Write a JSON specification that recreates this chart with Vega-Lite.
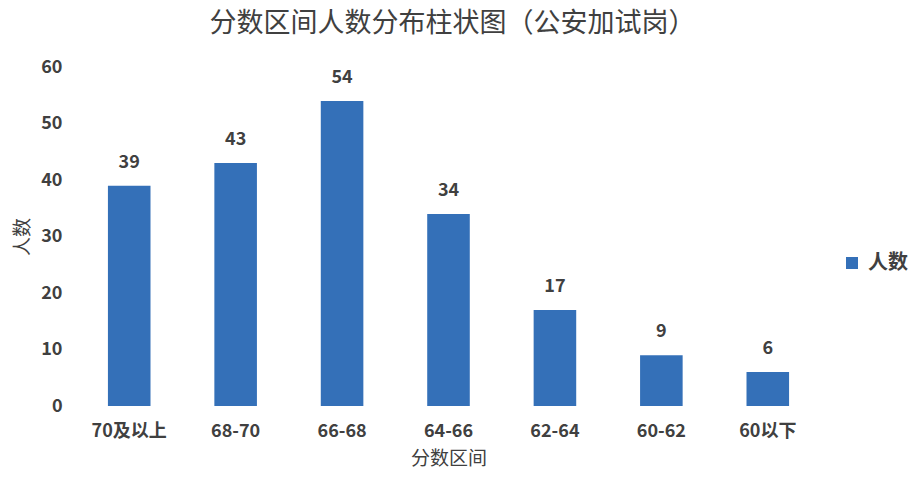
{
  "$schema": "https://vega.github.io/schema/vega-lite/v6.json",
  "autosize": "none",
  "width": 745,
  "height": 339,
  "padding": {"left": 76, "top": 67, "right": 100, "bottom": 91},
  "background": "white",
  "config": {
    "view": {"stroke": null},
    "font": "Noto Sans CJK SC"
  },
  "title": {
    "text": "分数区间人数分布柱状图（公安加试岗）",
    "font": "Noto Sans CJK SC",
    "fontSize": 27,
    "fontWeight": "normal",
    "color": "#404040",
    "anchor": "middle",
    "dx": 4,
    "offset": 20
  },
  "data": {
    "values": [
      {"区间": "70及以上", "人数": 39},
      {"区间": "68-70", "人数": 43},
      {"区间": "66-68", "人数": 54},
      {"区间": "64-66", "人数": 34},
      {"区间": "62-64", "人数": 17},
      {"区间": "60-62", "人数": 9},
      {"区间": "60以下", "人数": 6}
    ]
  },
  "encoding": {
    "x": {
      "field": "区间",
      "type": "nominal",
      "sort": null,
      "title": "分数区间",
      "scale": {"paddingInner": 0.6, "paddingOuter": 0.3},
      "axis": {
        "domain": false,
        "ticks": false,
        "tickSize": 0,
        "labelAngle": 0,
        "labelFontSize": 18,
        "labelFontWeight": "bold",
        "labelColor": "#404040",
        "labelPadding": 16,
        "titleFontSize": 19,
        "titleFontWeight": "normal",
        "titleColor": "#404040",
        "titlePadding": 9
      }
    },
    "y": {
      "field": "人数",
      "type": "quantitative",
      "title": "人数",
      "scale": {"domain": [0, 60]},
      "axis": {
        "values": [0, 10, 20, 30, 40, 50, 60],
        "domain": false,
        "ticks": false,
        "tickSize": 0,
        "grid": false,
        "labelFontSize": 18,
        "labelFontWeight": "bold",
        "labelColor": "#404040",
        "labelPadding": 14,
        "titleFontSize": 19,
        "titleFontWeight": "normal",
        "titleColor": "#404040",
        "titlePadding": 8
      }
    }
  },
  "layer": [
    {
      "mark": {"type": "bar"},
      "encoding": {
        "color": {
          "datum": "人数",
          "scale": {"range": ["#3470B8"]},
          "legend": {
            "title": null,
            "orient": "none",
            "legendX": 766,
            "legendY": 186,
            "symbolType": "square",
            "symbolSize": 144,
            "symbolStrokeWidth": 0,
            "labelFontSize": 20,
            "labelFontWeight": "bold",
            "labelColor": "#404040",
            "labelOffset": 6
          }
        }
      }
    },
    {
      "mark": {
        "type": "text",
        "baseline": "middle",
        "align": "center",
        "dy": -23,
        "fontSize": 18,
        "fontWeight": "bold",
        "color": "#404040"
      },
      "encoding": {
        "text": {"field": "人数", "type": "quantitative"}
      }
    }
  ]
}
